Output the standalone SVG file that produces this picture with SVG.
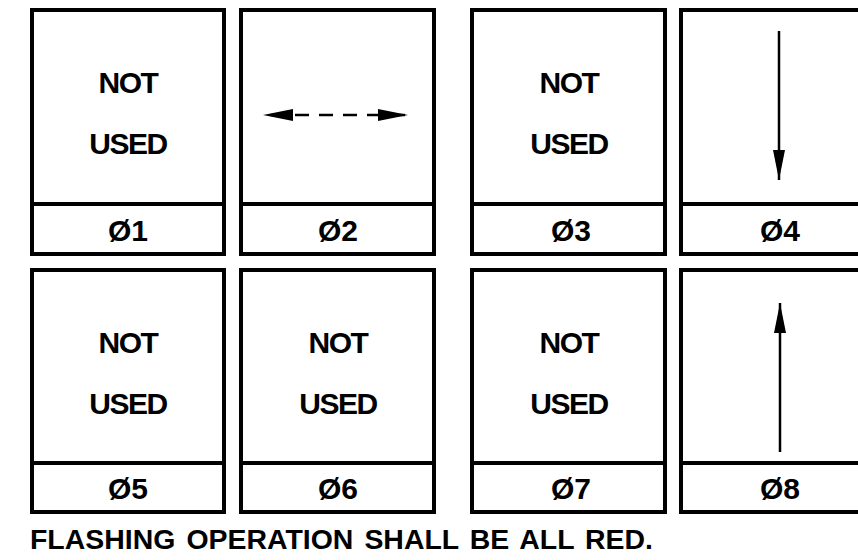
<svg xmlns="http://www.w3.org/2000/svg" width="858" height="560" viewBox="0 0 858 560">
<defs>
<style>
.box{fill:#fff;stroke:#000;stroke-width:4}
.div{stroke:#000;stroke-width:4}
.t{font-family:"Liberation Sans",Arial,sans-serif;font-weight:bold;font-size:30px;text-anchor:middle;fill:#000;letter-spacing:-1.5px}
.p{font-family:"Liberation Sans",Arial,sans-serif;font-weight:bold;font-size:30px;text-anchor:middle;fill:#000}
.note{font-family:"Liberation Sans",Arial,sans-serif;font-weight:bold;font-size:27px;fill:#000;word-spacing:3px}
.arr{stroke:#000;stroke-width:2.5;fill:none}
</style>
<marker id="ah" viewBox="0 0 30 12" refX="30" refY="6" markerWidth="30" markerHeight="12" markerUnits="userSpaceOnUse" orient="auto">
<path d="M0,0 L30,6 L0,12 Z" fill="#000"/>
</marker>
<marker id="ahs" viewBox="0 0 30 12" refX="0" refY="6" markerWidth="30" markerHeight="12" markerUnits="userSpaceOnUse" orient="auto">
<path d="M30,0 L0,6 L30,12 Z" fill="#000"/>
</marker>
</defs>
<rect width="858" height="560" fill="#fff"/>

<g id="phase1">
<rect class="box" x="32" y="10" width="192" height="244"/>
<line class="div" x1="32" y1="204" x2="224" y2="204"/>
<text class="t" x="128" y="93">NOT</text>
<text class="t" x="128" y="154">USED</text>
<text class="p" x="128" y="241">Ø1</text>
</g>

<g id="phase2">
<rect class="box" x="241" y="10" width="193" height="244"/>
<line class="div" x1="241" y1="204" x2="434" y2="204"/>
<text class="p" x="338" y="241">Ø2</text>
</g>

<g id="phase3">
<rect class="box" x="472" y="10" width="193" height="244"/>
<line class="div" x1="472" y1="204" x2="665" y2="204"/>
<text class="t" x="569" y="93">NOT</text>
<text class="t" x="569" y="154">USED</text>
<text class="p" x="571" y="241">Ø3</text>
</g>

<g id="phase4">
<rect class="box" x="681" y="10" width="195" height="244"/>
<line class="div" x1="681" y1="204" x2="876" y2="204"/>
<text class="p" x="780" y="241">Ø4</text>
</g>

<g id="phase5">
<rect class="box" x="32" y="270" width="192" height="242"/>
<line class="div" x1="32" y1="463" x2="224" y2="463"/>
<text class="t" x="128" y="353">NOT</text>
<text class="t" x="128" y="414">USED</text>
<text class="p" x="128" y="499">Ø5</text>
</g>

<g id="phase6">
<rect class="box" x="241" y="270" width="193" height="242"/>
<line class="div" x1="241" y1="463" x2="434" y2="463"/>
<text class="t" x="338" y="353">NOT</text>
<text class="t" x="338" y="414">USED</text>
<text class="p" x="338" y="499">Ø6</text>
</g>

<g id="phase7">
<rect class="box" x="472" y="270" width="193" height="242"/>
<line class="div" x1="472" y1="463" x2="665" y2="463"/>
<text class="t" x="569" y="353">NOT</text>
<text class="t" x="569" y="414">USED</text>
<text class="p" x="571" y="499">Ø7</text>
</g>

<g id="phase8">
<rect class="box" x="681" y="270" width="195" height="242"/>
<line class="div" x1="681" y1="463" x2="876" y2="463"/>
<text class="p" x="780" y="499">Ø8</text>
</g>

<g id="connectors">
<line class="arr" x1="263" y1="115" x2="408" y2="115" stroke-dasharray="14,10" stroke-dashoffset="-8" marker-start="url(#ahs)" marker-end="url(#ah)"/>
<line class="arr" x1="779" y1="31" x2="779" y2="180" marker-end="url(#ah)"/>
<line class="arr" x1="780" y1="452" x2="780" y2="303" marker-end="url(#ah)"/>
</g>

<text class="note" x="30" y="549" textLength="623" lengthAdjust="spacingAndGlyphs">FLASHING OPERATION SHALL BE ALL RED.</text>
</svg>
